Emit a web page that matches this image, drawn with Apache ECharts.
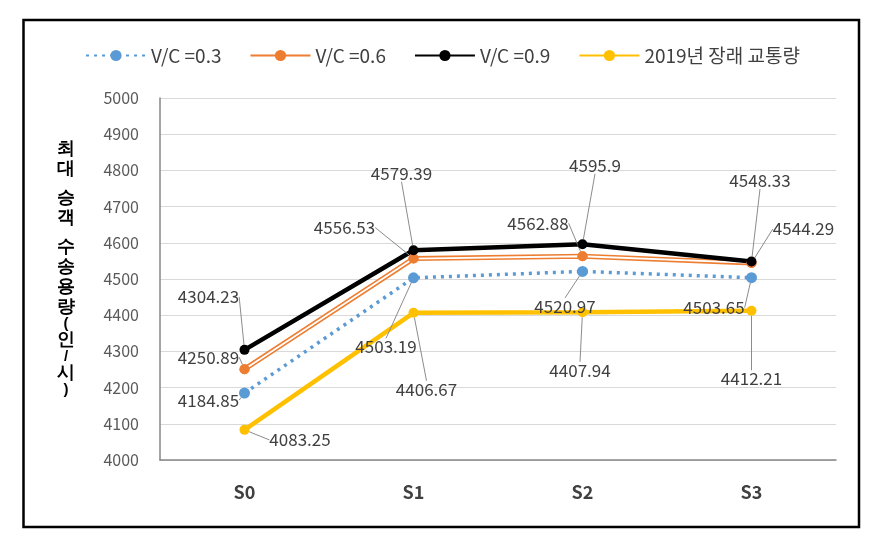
<!DOCTYPE html>
<html>
<head>
<meta charset="utf-8">
<script src="https://cdn.jsdelivr.net/npm/echarts@6/dist/echarts.min.js"></script>
<style>html,body{margin:0;padding:0;background:#fff;}#c{width:876px;height:536px;}</style>
</head>
<body>
<div id="c"></div>
<script>
const categories = ['S0', 'S1', 'S2', 'S3'];
const seriesNames = ['V/C =0.3', 'V/C =0.6', 'V/C =0.9', '2019년 장래 교통량'];
const vc03 = [4184.85, 4503.19, 4520.97, 4503.65];
const vc06 = [4250.89, 4556.53, 4562.88, 4544.29];
const vc09 = [4304.23, 4579.39, 4595.9, 4548.33];
const traffic2019 = [4083.25, 4406.67, 4407.94, 4412.21];
const yTicks = [4000, 4100, 4200, 4300, 4400, 4500, 4600, 4700, 4800, 4900, 5000];
const yAxisTitle = ['최', '대', ' ', '승', '객', ' ', '수', '송', '용', '량', '(', '인', '/', '시', ')'];

// label offsets (label centre relative to point), layout only
const labelOffsets = {
  0: [[-36, 7], [-27.5, 69], [-17.5, 35], [-37.5, 30]],
  1: [[-36, -12], [-69, -31], [-44.5, -33], [52, -34]],
  3: [[-36, -53], [-12, -77], [12.5, -79], [8.5, -81]],
  4: [[55.5, 10], [13, 76.5], [-2.5, 58], [0, 68]]
};

const FONT = 'Noto Sans CJK KR';
const labelCommon = {
  show: true, position: 'inside', color: '#404040', fontSize: 17, fontFamily: FONT,
  formatter: p => String(p.value)
};
const labelLineCommon = { show: true, lineStyle: { color: '#8c8c8c', width: 1 } };

const chart = echarts.init(document.getElementById('c'), null, { renderer: 'canvas' });

function richTitle() {
  return yAxisTitle.map(ch => {
    if (ch === ' ') return '{g|}';
    if (ch === '(' || ch === ')' || ch === '/') return '{p|' + ch + '}';
    return '{a|' + ch + '}';
  }).join('\n');
}

chart.setOption({
  animation: false,
  backgroundColor: '#ffffff',
  textStyle: { fontFamily: FONT },
  graphic: [
    { type: 'rect', shape: { x: 23.5, y: 20, width: 835.5, height: 507 },
      style: { fill: 'none', stroke: '#000', lineWidth: 2.5 }, silent: true },
    { type: 'text', left: 56, top: 140,
      style: { text: richTitle(), fontFamily: FONT, align: 'center',
        rich: {
          a: { fontSize: 18, fontWeight: 'bold', color: '#404040', lineHeight: 20, align: 'center', width: 20 },
          p: { fontSize: 15, fontWeight: 'bold', color: '#404040', lineHeight: 13, align: 'center', width: 20 },
          g: { lineHeight: 9, width: 20 }
        } } }
  ],
  legend: {
    data: seriesNames,
    left: 80, top: 41,
    itemWidth: 60, itemHeight: 14, itemGap: 28,
    textStyle: { fontSize: 19, color: '#404040', fontFamily: FONT }
  },
  grid: { left: 160, right: 40, top: 98, bottom: 76 },
  xAxis: {
    type: 'category', data: categories, boundaryGap: true,
    axisLine: { show: true, lineStyle: { color: '#868686', width: 1.5 } },
    axisTick: { show: false },
    axisLabel: { margin: 23, fontSize: 18, fontWeight: 'bold', color: '#404040', fontFamily: FONT }
  },
  yAxis: {
    type: 'value', min: yTicks[0], max: yTicks[yTicks.length - 1], interval: 100,
    axisLine: { show: true, lineStyle: { color: '#868686', width: 1.5 } },
    axisTick: { show: false },
    splitLine: { lineStyle: { color: '#d9d9d9', width: 1 } },
    axisLabel: { margin: 21, fontSize: 16, color: '#595959', fontFamily: FONT,
      formatter: v => String(v) }
  },
  labelLayout: function (params) {
    const offs = labelOffsets[params.seriesIndex];
    if (!offs) return {};
    const o = offs[params.dataIndex];
    return { dx: o[0], dy: o[1], hideOverlap: false };
  },
  series: [
    { name: seriesNames[0], type: 'line', data: vc03, z: 2,
      symbol: 'circle', symbolSize: 11,
      itemStyle: { color: '#5B9BD5' },
      lineStyle: { color: '#5B9BD5', width: 3.5, type: [3, 5] },
      label: labelCommon, labelLine: labelLineCommon },
    { name: seriesNames[1], type: 'line', data: vc06, z: 2,
      symbol: 'circle', symbolSize: 10,
      itemStyle: { color: '#ED7D31' },
      lineStyle: { color: '#ED7D31', width: 5 },
      label: labelCommon, labelLine: labelLineCommon },
    { name: 'vc06core', type: 'line', data: vc06, z: 2,
      symbol: 'circle', symbolSize: 10, silent: true,
      itemStyle: { color: '#ED7D31' },
      lineStyle: { color: '#ffffff', width: 1.8 },
      label: { show: false } },
    { name: seriesNames[2], type: 'line', data: vc09, z: 2,
      symbol: 'circle', symbolSize: 10,
      itemStyle: { color: '#000000' },
      lineStyle: { color: '#000000', width: 4.5 },
      label: labelCommon, labelLine: labelLineCommon },
    { name: seriesNames[3], type: 'line', data: traffic2019, z: 2,
      symbol: 'circle', symbolSize: 10,
      itemStyle: { color: '#FFC000' },
      lineStyle: { color: '#FFC000', width: 4.5 },
      label: labelCommon, labelLine: labelLineCommon }
  ]
});
</script>
</body>
</html>
